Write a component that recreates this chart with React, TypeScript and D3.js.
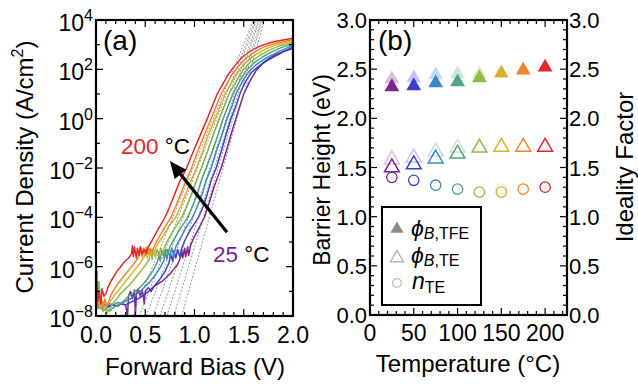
import React from 'react';
import * as d3 from 'd3';

const FONT = '"Liberation Sans", Arial, Helvetica, sans-serif';

// Measurement temperatures (°C) and their colours
const temps = [25, 50, 75, 100, 125, 150, 175, 200];
const colors = ['#7d2290', '#3b3fc9', '#3b86c7', '#4ea67b', '#8dbb45', '#d6b32e', '#ed8531', '#e2262b'];

// J–V sweeps: [forward bias (V), log10 current density (A/cm²)]
const jv25 = [[0.00,-7.5],[0.01,-6.2],[0.02,-7.6],[0.04,-7.4],[0.07,-7.6],[0.10,-7.55],[0.14,-7.6],[0.18,-7.55],[0.22,-7.6],[0.26,-7.5],[0.30,-7.55],[0.32,-8.0],[0.33,-7.2],[0.35,-7.0],[0.37,-7.3],[0.39,-6.95],[0.40,-8.0],[0.41,-7.1],[0.43,-6.9],[0.45,-7.2],[0.47,-6.95],[0.49,-7.5],[0.50,-7.0],[0.53,-6.85],[0.56,-7.0],[0.59,-6.8],[0.63,-6.7],[0.67,-6.6],[0.71,-6.45],[0.75,-6.3],[0.79,-6.1],[0.83,-5.9],[0.86,-5.6],[0.87,-5.3],[0.88,-5.65],[0.90,-5.25],[0.91,-5.6],[0.93,-5.2],[0.94,-5.55],[0.96,-5.15],[0.99,-4.85],[1.05,-4.4],[1.10,-4.0],[1.15,-3.4],[1.20,-2.75],[1.27,-2.0],[1.32,-1.35],[1.37,-0.65],[1.42,0.0],[1.46,0.5],[1.50,1.0],[1.56,1.5],[1.62,1.92],[1.70,2.28],[1.80,2.55],[1.90,2.72],[2.00,2.85]];
const jv50 = [[0.00,-7.6],[0.02,-7.4],[0.05,-7.7],[0.08,-7.55],[0.12,-7.65],[0.16,-7.55],[0.20,-7.6],[0.25,-7.5],[0.30,-7.55],[0.35,-7.45],[0.40,-7.35],[0.45,-7.25],[0.50,-7.1],[0.55,-6.95],[0.60,-6.75],[0.65,-6.5],[0.70,-6.2],[0.74,-5.85],[0.76,-5.5],[0.78,-5.8],[0.79,-5.35],[0.81,-5.65],[0.83,-5.3],[0.85,-5.6],[0.87,-5.25],[0.90,-4.95],[0.96,-4.5],[1.04,-4.0],[1.09,-3.55],[1.13,-3.05],[1.17,-2.5],[1.22,-2.0],[1.27,-1.35],[1.32,-0.65],[1.37,0.0],[1.42,0.5],[1.46,1.0],[1.50,1.36],[1.54,1.65],[1.58,1.88],[1.66,2.15],[1.75,2.38],[1.85,2.6],[1.92,2.75],[2.00,2.91]];
const jv75 = [[0.00,-7.5],[0.02,-7.3],[0.04,-7.6],[0.07,-7.45],[0.10,-7.6],[0.14,-7.5],[0.18,-7.55],[0.22,-7.45],[0.26,-7.5],[0.30,-7.4],[0.35,-7.3],[0.40,-7.15],[0.45,-7.0],[0.50,-6.8],[0.55,-6.6],[0.60,-6.35],[0.65,-6.05],[0.69,-5.75],[0.70,-5.4],[0.72,-5.7],[0.73,-5.3],[0.75,-5.6],[0.77,-5.25],[0.79,-5.55],[0.81,-5.2],[0.85,-4.9],[0.91,-4.45],[0.98,-4.0],[1.03,-3.55],[1.08,-3.05],[1.12,-2.5],[1.17,-2.0],[1.22,-1.35],[1.28,-0.65],[1.33,0.0],[1.38,0.5],[1.42,1.0],[1.47,1.38],[1.51,1.66],[1.55,1.9],[1.63,2.2],[1.72,2.44],[1.82,2.65],[1.90,2.8],[2.00,2.97]];
const jv100 = [[0.00,-7.4],[0.02,-7.7],[0.04,-7.5],[0.07,-7.8],[0.10,-7.7],[0.14,-7.8],[0.18,-7.65],[0.23,-7.55],[0.28,-7.4],[0.33,-7.2],[0.38,-7.05],[0.43,-6.9],[0.48,-6.7],[0.53,-6.45],[0.58,-6.15],[0.62,-5.85],[0.64,-5.55],[0.65,-5.75],[0.67,-5.35],[0.69,-5.6],[0.71,-5.3],[0.73,-5.5],[0.75,-5.2],[0.79,-4.9],[0.85,-4.5],[0.93,-4.0],[0.98,-3.55],[1.03,-3.05],[1.07,-2.5],[1.12,-2.0],[1.18,-1.35],[1.24,-0.65],[1.29,0.0],[1.34,0.5],[1.39,1.0],[1.44,1.38],[1.48,1.68],[1.52,1.92],[1.60,2.25],[1.69,2.5],[1.79,2.72],[1.88,2.88],[2.00,3.03]];
const jv125 = [[0.00,-7.2],[0.01,-6.3],[0.02,-7.0],[0.03,-6.6],[0.05,-7.6],[0.07,-7.8],[0.09,-7.6],[0.11,-7.9],[0.14,-7.7],[0.17,-7.5],[0.21,-7.3],[0.25,-7.1],[0.30,-6.9],[0.35,-6.7],[0.40,-6.45],[0.45,-6.2],[0.50,-5.95],[0.54,-5.7],[0.55,-5.3],[0.57,-5.7],[0.58,-5.25],[0.60,-5.6],[0.62,-5.3],[0.64,-5.55],[0.66,-5.25],[0.68,-5.45],[0.70,-5.15],[0.74,-4.85],[0.80,-4.45],[0.87,-4.0],[0.92,-3.55],[0.97,-3.05],[1.02,-2.5],[1.07,-2.0],[1.13,-1.35],[1.19,-0.65],[1.25,0.0],[1.30,0.5],[1.35,1.0],[1.40,1.35],[1.45,1.7],[1.49,1.95],[1.57,2.3],[1.66,2.56],[1.76,2.78],[1.86,2.95],[2.00,3.09]];
const jv150 = [[0.00,-7.6],[0.02,-7.1],[0.04,-7.7],[0.06,-7.4],[0.09,-7.7],[0.12,-7.5],[0.15,-7.4],[0.18,-7.2],[0.22,-7.0],[0.26,-6.8],[0.30,-6.6],[0.35,-6.35],[0.40,-6.1],[0.45,-5.85],[0.49,-5.6],[0.50,-5.3],[0.52,-5.65],[0.53,-5.25],[0.55,-5.55],[0.57,-5.3],[0.59,-5.5],[0.61,-5.2],[0.64,-5.0],[0.69,-4.7],[0.75,-4.3],[0.81,-4.0],[0.86,-3.55],[0.91,-3.05],[0.96,-2.55],[1.02,-2.0],[1.08,-1.35],[1.14,-0.65],[1.21,0.0],[1.26,0.5],[1.31,1.0],[1.36,1.35],[1.41,1.7],[1.46,2.0],[1.54,2.35],[1.63,2.62],[1.73,2.84],[1.84,3.01],[2.00,3.15]];
const jv175 = [[0.00,-7.5],[0.01,-6.8],[0.03,-7.6],[0.05,-7.2],[0.07,-7.7],[0.09,-7.3],[0.11,-7.6],[0.13,-7.4],[0.15,-7.15],[0.18,-6.95],[0.22,-6.7],[0.26,-6.5],[0.30,-6.3],[0.34,-6.1],[0.38,-5.9],[0.42,-5.7],[0.44,-5.5],[0.45,-5.2],[0.47,-5.6],[0.48,-5.25],[0.50,-5.55],[0.51,-5.2],[0.53,-5.5],[0.55,-5.25],[0.57,-5.4],[0.60,-5.1],[0.64,-4.8],[0.70,-4.4],[0.76,-4.0],[0.81,-3.55],[0.86,-3.05],[0.91,-2.55],[0.97,-2.0],[1.03,-1.35],[1.10,-0.65],[1.17,0.0],[1.22,0.5],[1.27,1.0],[1.32,1.35],[1.37,1.72],[1.43,2.05],[1.51,2.4],[1.60,2.68],[1.70,2.9],[1.82,3.06],[2.00,3.2]];
const jv200 = [[0.00,-7.3],[0.01,-6.6],[0.02,-7.4],[0.03,-7.0],[0.05,-7.5],[0.06,-6.9],[0.08,-7.2],[0.10,-7.1],[0.12,-6.85],[0.15,-6.6],[0.18,-6.4],[0.21,-6.2],[0.25,-6.0],[0.29,-5.8],[0.33,-5.65],[0.36,-5.5],[0.37,-5.15],[0.38,-5.6],[0.39,-5.2],[0.41,-5.65],[0.42,-5.25],[0.44,-5.55],[0.45,-5.2],[0.47,-5.5],[0.49,-5.3],[0.51,-5.45],[0.53,-5.2],[0.56,-5.0],[0.60,-4.7],[0.65,-4.35],[0.70,-4.0],[0.75,-3.55],[0.80,-3.05],[0.85,-2.55],[0.92,-2.0],[0.98,-1.4],[1.05,-0.75],[1.13,0.0],[1.18,0.5],[1.23,1.0],[1.28,1.35],[1.34,1.78],[1.40,2.1],[1.48,2.48],[1.57,2.75],[1.67,2.95],[1.80,3.12],[2.00,3.26]];
const jvCurves = [jv25, jv50, jv75, jv100, jv125, jv150, jv175, jv200];

// Thermionic-emission fits: bias where each fit reaches 1e-8 and 1e4 A/cm²
const fitLowV = [0.87, 0.79, 0.72, 0.65, 0.58, 0.51, 0.44, 0.37];
const fitHighV = [1.71, 1.69, 1.68, 1.66, 1.65, 1.63, 1.62, 1.60];

// Extracted parameters versus temperature
const phiTFE = [2.32, 2.33, 2.36, 2.37, 2.41, 2.46, 2.49, 2.52];
const phiTFEPrev = [2.40, 2.41, 2.44, 2.45, 2.45, null, null, null];
const phiTE = [1.50, 1.53, 1.59, 1.64, 1.70, 1.71, 1.71, 1.71];
const phiTEPrev = [1.58, 1.60, 1.66, 1.70, null, null, null, null];
const nTE = [1.40, 1.37, 1.32, 1.28, 1.25, 1.25, 1.28, 1.30];
const nTEPrev = [null, null, null, null, null, 1.28, null, null];

const jDecades = [-8, -6, -4, -2, 0, 2, 4];
const biasTicks = [0, 0.5, 1, 1.5, 2];
const tempTicks = [0, 50, 100, 150, 200];
const leftTicks = [0, 0.5, 1, 1.5, 2, 2.5, 3];

const sup = (n: number) => (n < 0 ? '\u2212' + Math.abs(n) : String(n));

export default function App() {
  const xA = d3.scaleLinear().domain([0, 2]).range([96, 293]);
  const yA = d3.scaleLog().domain([1e-8, 1e4]).range([316, 20]);
  const xB = d3.scaleLinear().domain([0, 225]).range([370, 567]);
  const yB = d3.scaleLinear().domain([0, 3]).range([315, 20]);

  const jvLine = d3
    .line<number[]>()
    .x((d) => xA(d[0]))
    .y((d) => yA(Math.pow(10, d[1])));

  const tri = d3.symbol().type(d3.symbolTriangle);
  const circ = d3.symbol().type(d3.symbolCircle);

  const [ax0, ax1] = xA.range();
  const [ay0, ay1] = yA.range();
  const [bx0, bx1] = xB.range();
  const [by0, by1] = yB.range();

  // tick marks drawn inward on all four sides
  const tickMarks: JSX.Element[] = [];
  d3.range(0, 2.0001, 0.1).forEach((v, i) => {
    const x = xA(v);
    const len = Math.abs(v * 2 - Math.round(v * 2)) < 1e-6 ? 7 : 4;
    tickMarks.push(<line key={'axb' + i} x1={x} x2={x} y1={ay0} y2={ay0 - len} />);
    tickMarks.push(<line key={'axt' + i} x1={x} x2={x} y1={ay1} y2={ay1 + len} />);
  });
  d3.range(-8, 4.0001, 1).forEach((e, i) => {
    const y = yA(Math.pow(10, e));
    const len = e % 2 === 0 ? 7 : 4;
    tickMarks.push(<line key={'ayl' + i} x1={ax0} x2={ax0 + len} y1={y} y2={y} />);
    tickMarks.push(<line key={'ayr' + i} x1={ax1} x2={ax1 - len} y1={y} y2={y} />);
  });
  d3.range(0, 225.001, 10).forEach((t, i) => {
    const x = xB(t);
    const len = t % 50 === 0 ? 7 : 4;
    tickMarks.push(<line key={'bxb' + i} x1={x} x2={x} y1={by0} y2={by0 - len} />);
    tickMarks.push(<line key={'bxt' + i} x1={x} x2={x} y1={by1} y2={by1 + len} />);
  });
  d3.range(0, 3.0001, 0.1).forEach((v, i) => {
    const y = yB(v);
    const len = Math.abs(v * 2 - Math.round(v * 2)) < 1e-6 ? 7 : 4;
    tickMarks.push(<line key={'byl' + i} x1={bx0} x2={bx0 + len} y1={y} y2={y} />);
    tickMarks.push(<line key={'byr' + i} x1={bx1} x2={bx1 - len} y1={y} y2={y} />);
  });

  // arrow from the 25 °C curves towards the 200 °C curves
  const arrowFrom = [xA(1.33), yA(Math.pow(10, -4.6))];
  const arrowTo = [xA(0.75), yA(Math.pow(10, -1.72))];
  const ang = Math.atan2(arrowTo[1] - arrowFrom[1], arrowTo[0] - arrowFrom[0]);
  const headLen = 17;
  const headHalf = 7.5;
  const hx = arrowTo[0] - headLen * Math.cos(ang);
  const hy = arrowTo[1] - headLen * Math.sin(ang);
  const head = [
    [arrowTo[0], arrowTo[1]],
    [hx + headHalf * Math.sin(ang), hy - headHalf * Math.cos(ang)],
    [hx - headHalf * Math.sin(ang), hy + headHalf * Math.cos(ang)],
  ];

  const legendGray = '#8c8c8c';

  return (
    <svg
      width={638}
      height={385}
      style={{ position: 'absolute', left: 0, top: 0, background: '#fff' }}
      fontFamily={FONT}
    >
      <defs>
        <clipPath id="clipA">
          <rect x={ax0} y={ay1} width={ax1 - ax0} height={ay0 - ay1} />
        </clipPath>
      </defs>

      {/* ---------- panel (a): J–V curves ---------- */}
      <g clipPath="url(#clipA)">
        {jvCurves.map((c, i) => (
          <path key={'jv' + i} d={jvLine(c) || ''} fill="none" stroke={colors[i]} strokeWidth={1.5} strokeLinejoin="round" />
        ))}
        {fitLowV.map((v, i) => (
          <line
            key={'fit' + i}
            x1={xA(v)}
            y1={yA(1e-8)}
            x2={xA(fitHighV[i])}
            y2={yA(1e4)}
            stroke="#7a7a7a"
            strokeWidth={0.8}
            strokeDasharray="2,1.6"
          />
        ))}
      </g>

      <line x1={arrowFrom[0]} y1={arrowFrom[1]} x2={hx} y2={hy} stroke="#000" strokeWidth={3.2} />
      <polygon points={head.map((p) => p.join(',')).join(' ')} fill="#000" />

      <text x={121} y={154} fontSize={22.5}>
        <tspan fill={colors[7]}>200</tspan>
        <tspan fill="#000"> °C</tspan>
      </text>
      <text x={213} y={262} fontSize={22.5}>
        <tspan fill={colors[0]}>25</tspan>
        <tspan fill="#000"> °C</tspan>
      </text>
      <text x={103} y={50} fontSize={28}>(a)</text>

      {/* ---------- panel (b): barrier heights and ideality ---------- */}
      {temps.map((t, i) =>
        phiTFEPrev[i] == null ? null : (
          <path key={'tfp' + i} d={tri.size(95)() || ''} transform={`translate(${xB(t)},${yB(phiTFEPrev[i] as number)})`} fill={colors[i]} opacity={0.3} />
        )
      )}
      {temps.map((t, i) => (
        <path key={'tf' + i} d={tri.size(95)() || ''} transform={`translate(${xB(t)},${yB(phiTFE[i])})`} fill={colors[i]} />
      ))}
      {temps.map((t, i) =>
        phiTEPrev[i] == null ? null : (
          <path key={'tep' + i} d={tri.size(95)() || ''} transform={`translate(${xB(t)},${yB(phiTEPrev[i] as number)})`} fill="none" stroke={colors[i]} strokeWidth={1.5} opacity={0.3} />
        )
      )}
      {temps.map((t, i) => (
        <path key={'te' + i} d={tri.size(95)() || ''} transform={`translate(${xB(t)},${yB(phiTE[i])})`} fill="none" stroke={colors[i]} strokeWidth={1.5} />
      ))}
      {temps.map((t, i) =>
        nTEPrev[i] == null ? null : (
          <path key={'np' + i} d={circ.size(85)() || ''} transform={`translate(${xB(t)},${yB(nTEPrev[i] as number)})`} fill="none" stroke={colors[i]} strokeWidth={1.3} opacity={0.3} />
        )
      )}
      {temps.map((t, i) => (
        <path key={'n' + i} d={circ.size(85)() || ''} transform={`translate(${xB(t)},${yB(nTE[i])})`} fill="none" stroke={colors[i]} strokeWidth={1.3} />
      ))}

      <text x={378} y={50} fontSize={28}>(b)</text>

      {/* legend */}
      <rect x={382} y={207} width={99} height={98} fill="#fff" stroke="#000" strokeWidth={2} />
      <path d={tri.size(75)() || ''} transform="translate(397,229)" fill={legendGray} />
      <path d={tri.size(75)() || ''} transform="translate(397,258)" fill="none" stroke="#aaa" strokeWidth={1.2} />
      <path d={circ.size(60)() || ''} transform="translate(397,283)" fill="none" stroke="#bbb" strokeWidth={1.2} />
      <text x={411} y={236} fontSize={23}>
        <tspan fontStyle="italic">ϕ</tspan>
        <tspan fontSize={16} dy={3} fontStyle="italic">B</tspan>
        <tspan fontSize={16}>,TFE</tspan>
      </text>
      <text x={411} y={263} fontSize={23}>
        <tspan fontStyle="italic">ϕ</tspan>
        <tspan fontSize={16} dy={3} fontStyle="italic">B</tspan>
        <tspan fontSize={16}>,TE</tspan>
      </text>
      <text x={412} y={289} fontSize={23}>
        <tspan fontStyle="italic">n</tspan>
        <tspan fontSize={16} dy={4}>TE</tspan>
      </text>

      {/* ---------- frames and ticks ---------- */}
      <g stroke="#000" strokeWidth={1.2}>{tickMarks}</g>
      <rect x={ax0} y={ay1} width={ax1 - ax0} height={ay0 - ay1} fill="none" stroke="#000" strokeWidth={2.2} />
      <rect x={bx0} y={by1} width={bx1 - bx0} height={by0 - by1} fill="none" stroke="#000" strokeWidth={2.2} />

      {/* tick labels */}
      <g fontSize={23} fill="#000">
        {jDecades.map((e) => (
          <text key={'jl' + e} x={93} y={yA(Math.pow(10, e)) + 11} textAnchor="end">
            10<tspan fontSize={16} dy={-10}>{sup(e)}</tspan>
          </text>
        ))}
        {biasTicks.map((v) => (
          <text key={'bl' + v} x={xA(v)} y={343} textAnchor="middle">{d3.format('.1f')(v)}</text>
        ))}
        {tempTicks.map((t) => (
          <text key={'tl' + t} x={xB(t)} y={341} textAnchor="middle">{t}</text>
        ))}
        {leftTicks.map((v) => (
          <text key={'ll' + v} x={367} y={yB(v) + 8} textAnchor="end" fontSize={22}>{d3.format('.1f')(v)}</text>
        ))}
        {leftTicks.map((v) => (
          <text key={'rl' + v} x={569} y={yB(v) + 8} textAnchor="start" fontSize={22}>{d3.format('.1f')(v)}</text>
        ))}
      </g>

      {/* axis titles */}
      <g fontSize={24} fill="#000">
        <text x={195} y={375} textAnchor="middle">Forward Bias (V)</text>
        <text x={468} y={372} textAnchor="middle">Temperature (°C)</text>
        <text transform="translate(33,167) rotate(-90)" textAnchor="middle">
          Current Density (A/cm<tspan fontSize={16} dy={-10}>2</tspan><tspan dy={10}>)</tspan>
        </text>
        <text transform="translate(330,170) rotate(-90)" textAnchor="middle" fontSize={23}>Barrier Height (eV)</text>
        <text transform="translate(633,167) rotate(-90)" textAnchor="middle">Ideality Factor</text>
      </g>
    </svg>
  );
}
